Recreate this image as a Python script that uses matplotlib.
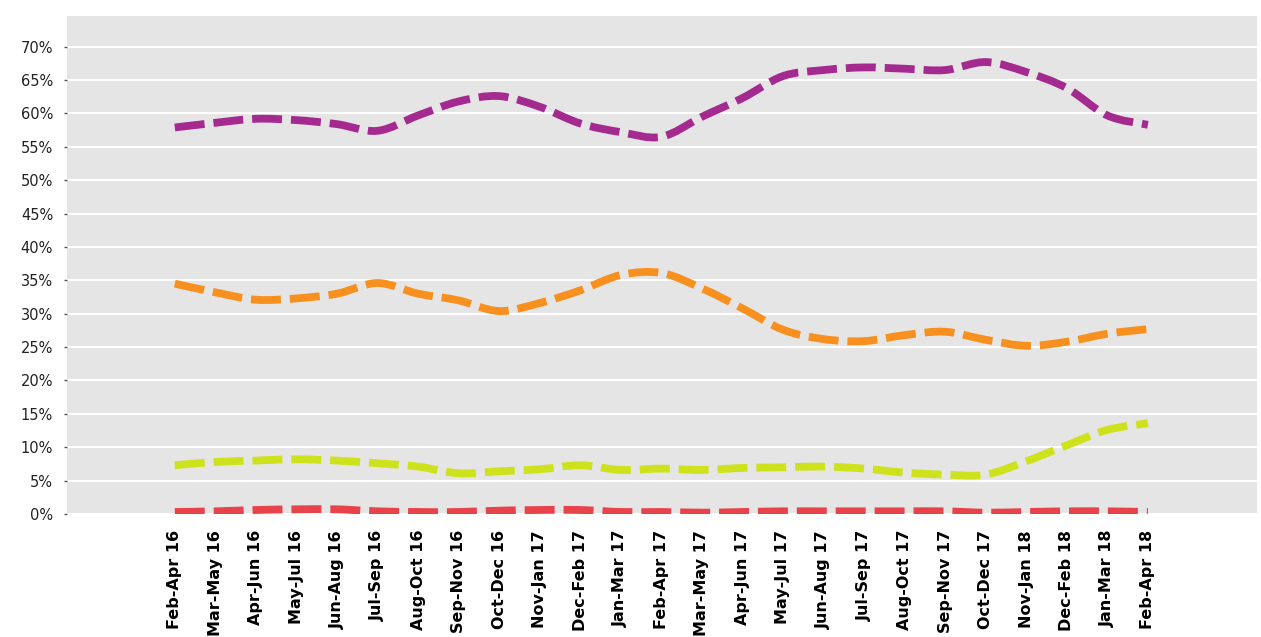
import numpy as np
import matplotlib.pyplot as plt
from matplotlib.path import Path
from matplotlib.patches import PathPatch
from matplotlib.ticker import FuncFormatter

periods = ['Feb-Apr 16', 'Mar-May 16', 'Apr-Jun 16', 'May-Jul 16', 'Jun-Aug 16',
           'Jul-Sep 16', 'Aug-Oct 16', 'Sep-Nov 16', 'Oct-Dec 16', 'Nov-Jan 17',
           'Dec-Feb 17', 'Jan-Mar 17', 'Feb-Apr 17', 'Mar-May 17', 'Apr-Jun 17',
           'May-Jul 17', 'Jun-Aug 17', 'Jul-Sep 17', 'Aug-Oct 17', 'Sep-Nov 17',
           'Oct-Dec 17', 'Nov-Jan 18', 'Dec-Feb 18', 'Jan-Mar 18', 'Feb-Apr 18']

purple = [57.9, 58.6, 59.2, 59.0, 58.4, 57.4, 59.7, 61.8, 62.6, 61.0, 58.5, 57.2, 56.5,
          59.5, 62.3, 65.6, 66.5, 66.9, 66.7, 66.5, 67.7, 66.2, 63.8, 59.7, 58.3]
orange = [34.5, 33.2, 32.1, 32.3, 33.0, 34.6, 33.0, 32.0, 30.4, 31.6, 33.5, 35.8, 36.1,
          33.8, 30.8, 27.6, 26.2, 25.9, 26.8, 27.3, 26.1, 25.2, 25.8, 27.0, 27.7]
green = [7.3, 7.8, 8.0, 8.2, 8.0, 7.6, 7.1, 6.1, 6.4, 6.7, 7.3, 6.6, 6.8,
         6.6, 6.9, 7.0, 7.1, 6.8, 6.2, 5.9, 5.9, 7.9, 10.3, 12.6, 13.6]
red = [0.3, 0.4, 0.6, 0.7, 0.7, 0.4, 0.3, 0.3, 0.5, 0.6, 0.6, 0.3, 0.3,
       0.2, 0.3, 0.4, 0.4, 0.4, 0.4, 0.4, 0.2, 0.3, 0.4, 0.4, 0.3]

series = [(purple, '#a52a8f'), (orange, '#f7901e'), (green, '#cde21c'), (red, '#e8424b')]


def smooth_path(x, y):
    # Catmull-Rom style bezier through the points
    x = np.asarray(x, float)
    y = np.asarray(y, float)
    verts = [(x[0], y[0])]
    codes = [Path.MOVETO]
    n = len(x)
    for i in range(n - 1):
        x0, y0 = (x[i - 1], y[i - 1]) if i > 0 else (x[i], y[i])
        x3, y3 = (x[i + 2], y[i + 2]) if i + 2 < n else (x[i + 1], y[i + 1])
        c1 = (x[i] + (x[i + 1] - x0) / 6, y[i] + (y[i + 1] - y0) / 6)
        c2 = (x[i + 1] - (x3 - x[i]) / 6, y[i + 1] - (y3 - y[i]) / 6)
        verts += [c1, c2, (x[i + 1], y[i + 1])]
        codes += [Path.CURVE4] * 3
    return Path(verts, codes)


fig = plt.figure(figsize=(12.61, 6.37), dpi=100)
ax = fig.add_axes([0.0531, 0.1931, 0.9437, 0.7818])
ax.set_facecolor('#e5e5e5')

xs = np.arange(len(periods))
for vals, col in series:
    patch = PathPatch(smooth_path(xs, vals), facecolor='none', edgecolor=col,
                      linewidth=5.6, linestyle=(0, (3.85, 1.15)), capstyle='butt',
                      joinstyle='round', zorder=3)
    ax.add_patch(patch)

ax.set_xlim(-2.66, 26.69)
ax.set_ylim(0, 74.6)
ax.set_yticks(np.arange(0, 71, 5))
ax.yaxis.set_major_formatter(FuncFormatter(lambda v, p: f'{v:.0f}%'))
ax.set_xticks(xs)
ax.set_xticklabels(periods, rotation=90, fontsize=11.5, fontweight='bold')
ax.tick_params(axis='x', length=0, pad=11.5)
ax.tick_params(axis='y', length=2, width=1, color='#555555', labelsize=10.5, pad=8,
               labelcolor='#222222')
ax.grid(axis='y', color='white', linewidth=1.5)
ax.set_axisbelow(True)
for s in ax.spines.values():
    s.set_visible(False)

fig.savefig('out.png', dpi=100)
